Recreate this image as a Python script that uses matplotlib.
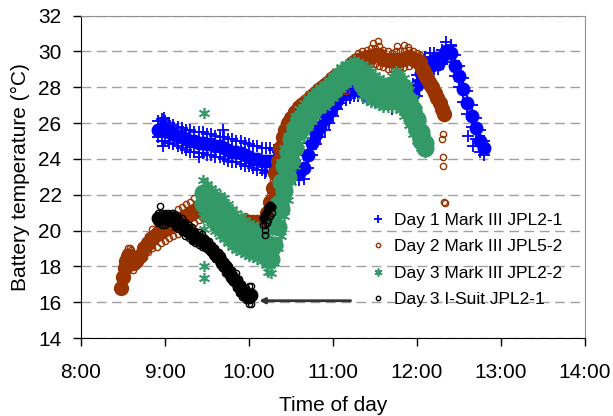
import numpy as np
import matplotlib
matplotlib.use('Agg')
import matplotlib.pyplot as plt
from matplotlib.ticker import FuncFormatter

plt.rcParams['font.family'] = ['Liberation Sans', 'DejaVu Sans']

# ---- Day 1 Mark III JPL2-1 (time of day in hours, band)
d1_t = [8.92, 8.96, 9.00, 9.05, 9.10, 9.15, 9.20, 9.25, 9.30, 9.35,
        9.40, 9.45, 9.50, 9.55, 9.60, 9.65, 9.70, 9.75, 9.80, 9.85,
        9.90, 9.95, 10.00, 10.05, 10.10, 10.15, 10.20, 10.25, 10.30, 10.35,
        10.40, 10.45, 10.50, 10.55, 10.60, 10.65, 10.70, 10.75, 10.80, 10.85,
        10.90, 10.95, 11.00, 11.05, 11.10, 11.15, 11.20, 11.25, 11.30, 11.40,
        11.50, 11.60, 11.70, 11.80, 11.85, 11.90, 11.95, 12.00, 12.05, 12.10,
        12.15, 12.20, 12.25, 12.30, 12.35, 12.40, 12.45, 12.50, 12.55, 12.60,
        12.65, 12.70, 12.75, 12.80]
d1_hi = [26.1, 26.2, 26.1, 26.0, 25.9, 25.8, 25.7, 25.6, 25.6, 25.5,
         25.5, 25.5, 25.4, 25.4, 25.3, 25.2, 25.2, 25.1, 25.1, 25.0,
         25.0, 24.9, 24.8, 24.7, 24.7, 24.6, 24.6, 24.6, 24.5, 24.4,
         24.4, 24.3, 24.2, 23.9, 23.7, 24.2, 24.9, 25.5, 25.9, 26.4,
         26.8, 27.2, 27.5, 27.8, 28.0, 28.1, 28.2, 28.2, 28.2, 28.0,
         27.9, 27.9, 27.9, 28.0, 28.1, 27.9, 28.2, 28.7, 29.3, 29.7,
         29.9, 29.9, 29.6, 30.1, 30.5, 30.3, 29.8, 29.2, 28.5, 27.8,
         27.0, 26.3, 25.6, 25.0]
d1_mid = [25.6, 25.7, 25.6, 25.5, 25.4, 25.3, 25.2, 25.1, 25.0, 25.0,
          24.9, 24.9, 24.8, 24.8, 24.7, 24.7, 24.6, 24.5, 24.4, 24.4,
          24.3, 24.2, 24.1, 24.0, 24.0, 23.9, 23.9, 23.9, 23.9, 23.9,
          23.9, 23.9, 23.7, 23.4, 23.2, 23.5, 24.2, 24.9, 25.4, 25.8,
          26.2, 26.6, 27.0, 27.3, 27.6, 27.8, 27.9, 27.9, 27.9, 27.6,
          27.5, 27.5, 27.5, 27.6, 27.7, 27.4, 27.6, 28.1, 28.8, 29.2,
          29.4, 29.5, 29.3, 29.7, 30.0, 29.9, 29.2, 28.6, 27.9, 27.1,
          26.4, 25.7, 25.0, 24.6]
d1_lo = [25.2, 25.0, 25.0, 24.9, 24.8, 24.7, 24.6, 24.5, 24.4, 24.4,
         24.3, 24.3, 24.2, 24.2, 24.1, 24.1, 24.0, 23.9, 23.8, 23.8,
         23.7, 23.6, 23.6, 23.5, 23.4, 23.4, 23.3, 23.3, 23.3, 23.4,
         23.4, 23.5, 23.2, 22.9, 22.8, 22.9, 23.5, 24.2, 24.8, 25.2,
         25.6, 26.0, 26.4, 26.8, 27.1, 27.3, 27.4, 27.5, 27.5, 27.3,
         27.2, 27.1, 27.1, 27.2, 27.3, 26.9, 27.0, 27.5, 28.2, 28.6,
         28.9, 29.0, 29.0, 29.3, 29.6, 29.4, 28.6, 28.0, 27.2, 26.5,
         25.8, 25.1, 24.4, 24.2]
d1_out_t = [8.98, 8.99, 9.41, 9.69, 10.09, 10.19, 11.36, 11.70, 12.41, 12.61, 12.67]
d1_out_v = [24.7, 26.3, 24.1, 25.6, 23.7, 23.2, 27.4, 26.8, 30.35, 25.3, 24.7]

# ---- Day 2 Mark III JPL5-2
d2_t = [8.48, 8.50, 8.52, 8.54, 8.56, 8.58, 8.60, 8.62, 8.66, 8.70,
        8.75, 8.80, 8.85, 8.90, 8.95, 9.00, 9.05, 9.10, 9.15, 9.20,
        9.25, 9.30, 9.35, 9.40, 9.45, 9.50, 9.55, 9.60, 9.65, 9.70,
        9.75, 9.80, 9.85, 9.90, 9.95, 10.00, 10.05, 10.10, 10.15, 10.20,
        10.22, 10.25, 10.28, 10.31, 10.34, 10.37, 10.40, 10.43, 10.46, 10.50,
        10.55, 10.60, 10.65, 10.70, 10.75, 10.80, 10.85, 10.90, 10.95, 11.00,
        11.05, 11.10, 11.15, 11.20, 11.25, 11.30, 11.35, 11.40, 11.45, 11.50,
        11.55, 11.60, 11.65, 11.70, 11.75, 11.80, 11.85, 11.90, 11.95, 12.00,
        12.03, 12.06, 12.09, 12.12, 12.15, 12.18, 12.21, 12.24, 12.27, 12.30,
        12.32]
d2_hi = [17.0, 17.8, 18.5, 18.8, 19.0, 19.0, 18.9, 18.6, 18.6, 18.9,
         19.3, 19.7, 20.1, 20.4, 20.6, 20.7, 20.8, 21.0, 21.2, 21.3,
         21.5, 21.6, 21.8, 22.0, 22.1, 21.2, 21.0, 20.8, 20.6, 20.5,
         20.5, 20.5, 20.6, 20.7, 20.8, 20.7, 20.7, 20.7, 20.6, 20.8,
         21.3, 22.0, 22.8, 23.6, 24.3, 25.0, 25.6, 26.0, 26.3, 26.6,
         26.9, 27.2, 27.4, 27.6, 27.8, 28.0, 28.2, 28.4, 28.6, 28.8,
         28.9, 29.0, 29.0, 29.5, 29.7, 29.9, 30.0, 30.1, 30.2, 30.2,
         30.3, 30.1, 30.0, 29.9, 30.0, 30.0, 30.0, 30.1, 30.0, 29.9,
         29.8, 29.5, 29.2, 29.0, 28.7, 28.4, 28.1, 27.8, 27.5, 27.1,
         26.8]
d2_mid = [16.8, 17.4, 17.9, 18.3, 18.6, 18.6, 18.5, 18.2, 18.3, 18.6,
          19.0, 19.3, 19.6, 19.8, 20.0, 20.1, 20.2, 20.4, 20.5, 20.6,
          20.8, 20.9, 21.1, 21.3, 21.4, 21.0, 20.8, 20.5, 20.3, 20.2,
          20.2, 20.2, 20.3, 20.4, 20.5, 20.5, 20.4, 20.5, 20.4, 20.5,
          21.0, 21.6, 22.4, 23.2, 23.9, 24.6, 25.2, 25.6, 26.0, 26.3,
          26.6, 26.9, 27.1, 27.3, 27.5, 27.7, 27.9, 28.1, 28.3, 28.5,
          28.6, 28.5, 28.4, 29.2, 29.4, 29.5, 29.6, 29.7, 29.7, 29.8,
          29.8, 29.6, 29.5, 29.5, 29.5, 29.5, 29.6, 29.7, 29.6, 29.5,
          29.4, 29.0, 28.7, 28.5, 28.2, 28.0, 27.7, 27.4, 27.1, 26.8,
          26.5]
d2_lo = [16.7, 16.9, 17.3, 17.8, 18.2, 18.3, 18.0, 17.8, 18.0, 18.3,
         18.5, 18.8, 19.0, 19.1, 19.3, 19.4, 19.6, 19.7, 19.8, 19.9,
         20.1, 20.2, 20.4, 20.6, 20.7, 20.7, 20.5, 20.3, 20.1, 20.0,
         19.9, 19.9, 20.0, 20.1, 20.2, 20.2, 20.2, 20.3, 20.2, 20.3,
         20.6, 21.2, 22.0, 22.8, 23.5, 24.2, 24.8, 25.3, 25.7, 26.0,
         26.4, 26.7, 26.9, 27.1, 27.3, 27.5, 27.7, 27.9, 28.1, 28.2,
         28.3, 28.0, 27.8, 28.9, 29.0, 29.1, 29.2, 29.3, 29.3, 29.3,
         29.2, 29.1, 29.0, 29.0, 29.0, 29.1, 29.1, 29.2, 29.3, 29.2,
         29.1, 28.6, 28.3, 28.1, 27.8, 27.6, 27.3, 27.0, 26.7, 26.5,
         26.3]
d2_out_t = [10.41, 10.45, 11.10, 11.48, 11.54, 11.76, 11.85, 11.89,
            12.31, 12.30, 12.31, 12.31, 12.32, 12.33]
d2_out_v = [25.4, 26.3, 27.8, 30.45, 30.6, 30.3, 30.35, 30.25,
            25.4, 25.1, 24.1, 23.6, 21.6, 21.55]

# ---- Day 3 Mark III JPL2-2
d3_t = [9.45, 9.50, 9.55, 9.60, 9.65, 9.70, 9.75, 9.80, 9.85, 9.90,
        9.95, 10.00, 10.05, 10.10, 10.15, 10.20, 10.23, 10.26, 10.30, 10.34,
        10.38, 10.42, 10.46, 10.50, 10.55, 10.60, 10.65, 10.70, 10.75, 10.80,
        10.85, 10.90, 10.95, 11.00, 11.05, 11.10, 11.15, 11.20, 11.25, 11.30,
        11.35, 11.40, 11.45, 11.50, 11.55, 11.60, 11.65, 11.70, 11.75, 11.80,
        11.85, 11.90, 11.95, 12.00, 12.05, 12.10]
d3_hi = [22.8, 22.6, 22.4, 22.2, 22.0, 21.8, 21.5, 21.2, 21.0, 20.8,
         20.6, 20.4, 20.3, 20.2, 20.1, 20.0, 19.9, 20.3, 21.3, 22.6,
         23.8, 24.6, 25.3, 25.8, 26.4, 26.8, 27.1, 27.4, 27.6, 27.8,
         28.0, 28.2, 28.4, 28.6, 28.9, 29.1, 29.3, 29.4, 29.5, 29.4,
         29.3, 29.1, 28.9, 28.7, 28.5, 28.4, 28.3, 28.6, 28.9, 28.8,
         28.5, 28.1, 27.4, 26.8, 26.0, 25.2]
d3_m1 = [22.1, 21.9, 21.7, 21.5, 21.3, 21.1, 20.8, 20.6, 20.3, 20.1,
         19.9, 19.8, 19.7, 19.6, 19.5, 19.3, 19.0, 19.2, 20.3, 21.5,
         22.7, 23.6, 24.4, 25.1, 25.7, 26.2, 26.5, 26.8, 27.1, 27.4,
         27.6, 27.8, 28.0, 28.2, 28.5, 28.7, 28.9, 29.0, 29.1, 29.0,
         28.7, 28.5, 28.3, 28.1, 28.0, 27.9, 27.8, 28.0, 28.3, 28.2,
         27.8, 27.3, 26.8, 26.2, 25.5, 24.9]
d3_m2 = [21.5, 21.3, 21.0, 20.8, 20.5, 20.3, 20.1, 19.9, 19.6, 19.4,
         19.3, 19.2, 19.1, 19.0, 18.9, 18.7, 18.4, 18.4, 19.2, 20.2,
         21.2, 22.2, 23.0, 23.9, 24.6, 25.5, 25.9, 26.3, 26.6, 26.9,
         27.1, 27.3, 27.6, 27.8, 28.1, 28.3, 28.6, 28.7, 28.7, 28.6,
         28.1, 27.9, 27.7, 27.6, 27.5, 27.4, 27.3, 27.4, 27.6, 27.5,
         27.1, 26.6, 26.1, 25.6, 25.0, 24.6]
d3_lo = [20.8, 20.6, 20.3, 20.0, 19.7, 19.5, 19.3, 19.1, 18.9, 18.8,
         18.7, 18.6, 18.5, 18.4, 18.3, 18.1, 17.7, 17.6, 18.2, 19.0,
         19.7, 20.8, 21.7, 22.7, 23.6, 24.8, 25.3, 25.8, 26.1, 26.4,
         26.7, 26.9, 27.2, 27.4, 27.7, 27.9, 28.2, 28.3, 28.4, 28.2,
         27.5, 27.3, 27.2, 27.1, 27.0, 26.9, 26.9, 26.9, 26.9, 26.7,
         26.4, 25.9, 25.4, 25.0, 24.6, 24.4]
d3_out_t = [9.46, 9.46, 9.46, 9.46]
d3_out_v = [26.57, 20.06, 18.02, 17.37]

# ---- Day 3 I-Suit JPL2-1
d4_t = [8.92, 8.96, 9.00, 9.04, 9.08, 9.12, 9.16, 9.20, 9.24, 9.28,
        9.32, 9.36, 9.40, 9.44, 9.48, 9.52, 9.56, 9.60, 9.64, 9.68,
        9.72, 9.76, 9.80, 9.84, 9.88, 9.92, 9.96, 10.00, 10.02]
d4_hi = [21.0, 21.0, 21.0, 21.0, 21.0, 20.9, 20.8, 20.7, 20.5, 20.3,
         20.2, 20.0, 19.9, 19.8, 19.6, 19.4, 19.2, 19.0, 18.8, 18.5,
         18.3, 18.0, 17.8, 17.6, 17.3, 17.0, 16.8, 16.9, 16.9]
d4_mid = [20.7, 20.7, 20.7, 20.7, 20.7, 20.6, 20.4, 20.3, 20.1, 19.9,
          19.8, 19.6, 19.5, 19.4, 19.3, 19.1, 18.9, 18.7, 18.5, 18.2,
          18.0, 17.7, 17.4, 17.2, 16.9, 16.6, 16.4, 16.3, 16.4]
d4_lo = [20.4, 20.3, 20.3, 20.4, 20.4, 20.2, 20.1, 19.9, 19.7, 19.6,
         19.4, 19.3, 19.2, 19.1, 19.0, 18.9, 18.7, 18.4, 18.2, 17.9,
         17.6, 17.4, 17.1, 16.8, 16.5, 16.3, 16.1, 15.9, 15.9]
d4b_t = [10.17, 10.19, 10.21, 10.23, 10.25, 10.27]
d4b_hi = [20.7, 20.9, 21.1, 21.3, 21.4, 21.3]
d4b_lo = [20.3, 20.3, 20.4, 20.6, 20.8, 21.0]
d4_out_t = [8.94, 10.19, 10.19]
d4_out_v = [21.38, 20.04, 19.76]

labels = ['Day 1 Mark III JPL2-1', 'Day 2 Mark III JPL5-2',
          'Day 3 Mark III JPL2-2', 'Day 3 I-Suit JPL2-1']

BLUE, BROWN, GREEN = '#0000FF', '#993300', '#339966'

blue_style = dict(marker='+', color=BLUE, markersize=9, mew=1.3)
brown_style = dict(marker='o', mfc='none', mec=BROWN, markersize=4.5, mew=1.0)
green_style = dict(marker=(6, 2, 0), color=GREEN, markersize=8, mew=1.2)
black_style = dict(marker='o', mfc='none', mec='black', markersize=4.5, mew=1.0)


def scatter_band(ax, t, edges, core, out_t, out_v, label, style, core_color, core_size):
    # inner rows are so crowded in the original that they read as solid colour
    for r in core:
        ax.plot(t, r, linestyle='none', marker='o', mfc=core_color, mec=core_color,
                markersize=core_size, mew=0)
    for r in edges:
        ax.plot(t, r, linestyle='none', **style)
    ax.plot(out_t, out_v, linestyle='none', label=label, **style)


fig = plt.figure(figsize=(6.13, 4.16), dpi=100)
ax = fig.add_axes([81 / 613, 78 / 416, 504 / 613, 322.5 / 416])

scatter_band(ax, d1_t, [d1_hi, d1_lo], [d1_mid], d1_out_t, d1_out_v,
             labels[0], blue_style, BLUE, 10)
scatter_band(ax, d2_t, [d2_hi, d2_lo], [d2_mid], d2_out_t, d2_out_v,
             labels[1], brown_style, BROWN, 11)
scatter_band(ax, d3_t, [d3_hi, d3_lo], [d3_m1, d3_m2], d3_out_t, d3_out_v,
             labels[2], green_style, GREEN, 13)
ax.plot(d4b_t, d4b_hi, linestyle='none', marker='o', color='black', markersize=6, mew=0)
ax.plot(d4b_t, d4b_lo, linestyle='none', **black_style)
scatter_band(ax, d4_t, [d4_hi, d4_lo], [d4_mid], d4_out_t, d4_out_v,
             labels[3], black_style, 'black', 10)

# arrow pointing at the end of the I-Suit record
ax.annotate('', xy=(10.12, 16.08), xytext=(11.21, 16.08),
            arrowprops=dict(arrowstyle='-|>', color='#333333', lw=2,
                            mutation_scale=8, shrinkA=0, shrinkB=0))

ax.set_xlim(8, 14)
ax.set_ylim(14, 32)
ax.set_xticks(range(8, 15))
ax.set_yticks(range(14, 33, 2))
ax.xaxis.set_major_formatter(FuncFormatter(lambda v, p: '%d:00' % v))
ax.yaxis.grid(True, linestyle=(0, (7, 4)), color='#A0A0A0', linewidth=1.0)
ax.set_axisbelow(True)

ax.tick_params(axis='both', direction='out', length=6, width=1, labelsize=15)
ax.tick_params(axis='x', pad=12)
ax.tick_params(axis='y', pad=8)
for s in ['top', 'right']:
    ax.spines[s].set_color('#909090')
for s in ['left', 'bottom']:
    ax.spines[s].set_color('black')

ax.set_xlabel('Time of day', fontsize=15, labelpad=10)
ax.set_ylabel('Battery temperature (\u00b0C)', fontsize=15, labelpad=6)

leg = ax.legend(loc='center left', bbox_to_anchor=(0.573, 0.242), frameon=False,
                fontsize=12.5, handlelength=1.0, handletextpad=0.4,
                borderpad=0, borderaxespad=0, labelspacing=0.63, markerscale=0.7)

fig.savefig('out.png', dpi=100)
